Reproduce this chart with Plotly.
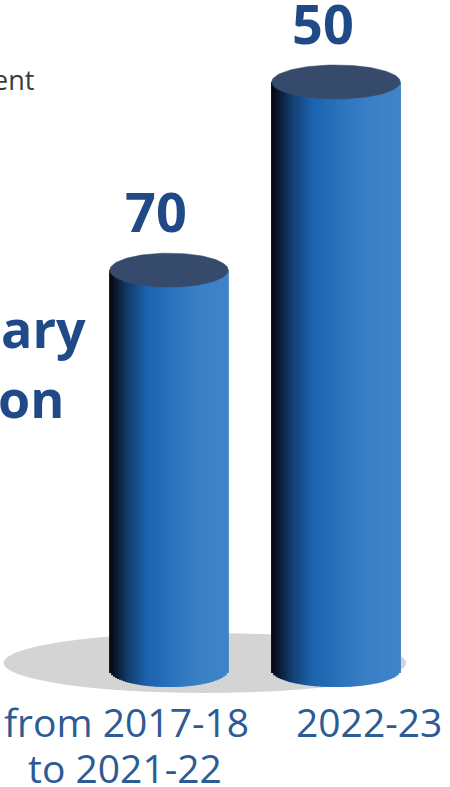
import numpy as np
import plotly.graph_objects as go

# ---- data ----
categories_line1 = ["from 2017-18", "2022-23"]
categories_line2 = ["to 2021-22", ""]
value_labels = ["70", "50"]
bar_heights = [68, 100]          # relative cylinder heights as drawn
side_texts = ["ent", "ary", "on"]

# ---- style ----
NAVY = "#1f4a87"
CAT_COL = "#2d5b94"
TOP_COL = "#364b6c"
half_w = [0.355, 0.385]          # cylinder half width (x units)
ry = 2.9                         # ellipse half height (y units)

stops = [(0.0, (4, 6, 10)), (0.06, (11, 26, 48)), (0.16, (18, 62, 112)),
         (0.32, (29, 99, 173)), (0.5, (40, 112, 187)), (0.75, (58, 128, 198)),
         (1.0, (63, 132, 200))]


def grad(u):
    for (a, ca), (b, cb) in zip(stops[:-1], stops[1:]):
        if u <= b:
            f = (u - a) / (b - a) if b > a else 0
            c = [int(round(ca[k] + f * (cb[k] - ca[k]))) for k in range(3)]
            return f"rgb({c[0]},{c[1]},{c[2]})"
    c = stops[-1][1]
    return f"rgb({c[0]},{c[1]},{c[2]})"


fig = go.Figure()
N = 60
for i, h in enumerate(bar_heights):
    rx = half_w[i]
    t = np.linspace(-1, 1, N + 1)
    tc = (t[:-1] + t[1:]) / 2
    bases = -ry * np.sqrt(np.clip(1 - tc ** 2, 0, 1))
    # solid underlay to hide sub-pixel seams
    fig.add_trace(go.Bar(x=[i], y=[h], base=[0], width=2 * rx * 0.9,
                         marker=dict(color="rgb(40,112,187)", line=dict(width=0)),
                         hoverinfo="skip", showlegend=False))
    cols = [grad((v + 1) / 2) for v in tc]
    fig.add_trace(go.Bar(x=i + tc * rx, y=h - bases, base=bases, width=2 * rx / N * 1.6,
                         marker=dict(color=cols, line=dict(width=0)),
                         hoverinfo="skip", showlegend=False))

for i, h in enumerate(bar_heights):
    rx = half_w[i]
    th = np.linspace(0, 2 * np.pi, 120)
    fig.add_trace(go.Scatter(x=i + rx * np.cos(th), y=h + ry * np.sin(th),
                             mode="lines", fill="toself", fillcolor=TOP_COL,
                             line=dict(width=0.5, color=TOP_COL),
                             hoverinfo="skip", showlegend=False))

# ground shadow
fig.add_shape(type="circle", xref="x", yref="y", layer="below",
              x0=-0.99, x1=1.42, y0=-3.9, y1=6.3,
              fillcolor="#d4d4d4", line=dict(width=0))

# value labels
for i, h in enumerate(bar_heights):
    fig.add_annotation(x=i, y=h, text=f"<b>{value_labels[i]}</b>", showarrow=False,
                       yanchor="middle", yshift=59, xshift=-13,
                       font=dict(family="Open Sans", size=54, color=NAVY))

# category labels
cat_xshift = [-43, 33]
for i in range(2):
    fig.add_annotation(x=i, y=0, text=categories_line1[i], showarrow=False,
                       yanchor="middle", yshift=-51, xshift=cat_xshift[i],
                       font=dict(family="Open Sans", size=39, color=CAT_COL))
    if categories_line2[i]:
        fig.add_annotation(x=i, y=0, text=categories_line2[i], showarrow=False,
                           yanchor="middle", yshift=-97, xshift=cat_xshift[i] - 1,
                           font=dict(family="Open Sans", size=39, color=CAT_COL))

# cut-off side texts
fig.add_annotation(xref="paper", yref="paper", x=36 / 450, y=1 - 80 / 787,
                   text=side_texts[0], showarrow=False, xanchor="right", yanchor="middle",
                   font=dict(family="Open Sans", size=27, color="#3a3a3a"))
fig.add_annotation(xref="paper", yref="paper", x=88 / 450, y=1 - 327 / 787,
                   text=f"<b>{side_texts[1]}</b>", showarrow=False, xanchor="right",
                   yanchor="middle", font=dict(family="Open Sans", size=52, color=NAVY))
fig.add_annotation(xref="paper", yref="paper", x=66 / 450, y=1 - 398 / 787,
                   text=f"<b>{side_texts[2]}</b>", showarrow=False, xanchor="right",
                   yanchor="middle", font=dict(family="Open Sans", size=52, color=NAVY))

px_per_x = 167.0
px_per_y = 5.88
x0_px, y0_px = 169.0, 670.0
fig.update_layout(
    width=450, height=787, margin=dict(l=0, r=0, t=0, b=0),
    paper_bgcolor="white", plot_bgcolor="white", barmode="overlay",
    xaxis=dict(range=[-x0_px / px_per_x, (450 - x0_px) / px_per_x], visible=False, fixedrange=True),
    yaxis=dict(range=[-(787 - y0_px) / px_per_y, y0_px / px_per_y], visible=False, fixedrange=True),
)
fig.write_html("out.html", config={"displayModeBar": False},
               post_script="document.body.style.margin='0';document.body.style.overflow='hidden';")
